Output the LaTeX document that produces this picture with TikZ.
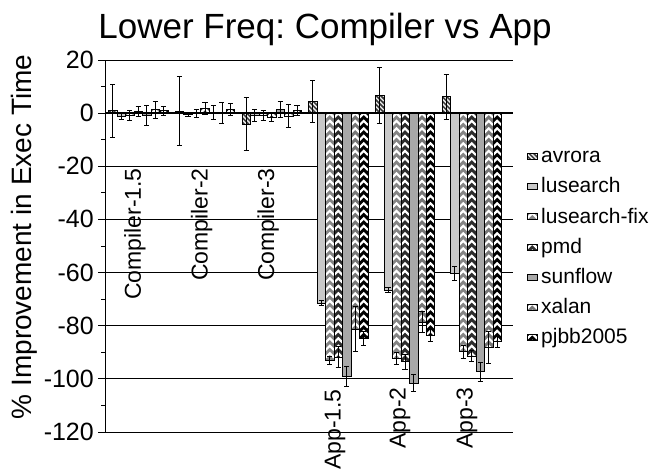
\documentclass[tikz,border=0pt]{standalone}
\usepackage{fontspec}
\setmainfont{Liberation Sans}
\frenchspacing
\definecolor{cAvr}{HTML}{3A3A3A}
\definecolor{cLus}{HTML}{C8C8C8}
\definecolor{cLfix}{HTML}{858585}
\definecolor{cPmd}{HTML}{2C2C2C}
\definecolor{cSun}{HTML}{A8A8A8}
\definecolor{cXal}{HTML}{777777}
\definecolor{cPjb}{HTML}{000000}
\tikzset{
  outl/.style={draw=black, line width=0.5pt},
  chevline/.style={white, line width=2.2pt},
  hatchline/.style={white!85!gray, line width=1.4pt},
  errbar/.style={black, line width=0.7pt},
  gridl/.style={black, line width=0.8pt},
  axisl/.style={black, line width=1.6pt},
  tickl/.style={black, line width=0.8pt},
  titlef/.style={font=\fontsize{35}{42}\selectfont, inner sep=0pt},
  ytitlef/.style={font=\fontsize{28}{34}\selectfont, inner sep=0pt},
  tickf/.style={font=\fontsize{25}{30}\selectfont, inner sep=0pt},
  catf/.style={font=\fontsize{23}{28}\selectfont, inner sep=0pt},
  legf/.style={font=\fontsize{21}{25}\selectfont, inner sep=0pt},
}
% plain filled rectangle: color, xa, ya, xb, yb
\newcommand\plainrect[5]{%
  \fill[#1] (#2,#3) rectangle (#4,#5);
  \draw[outl] (#2,#3) rectangle (#4,#5);
}
% hatched rectangle (diagonal stripes)
\newcommand\hatchrect[5]{%
  \fill[#1] (#2,#3) rectangle (#4,#5);
  \begin{scope}
    \clip (#2,#3) rectangle (#4,#5);
    \pgfmathsetmacro\hw{(#4)-(#2)}
    \pgfmathtruncatemacro\hn{((#5)-(#3))/4.5+4}
    \foreach \k in {0,...,\hn} {
      \draw[hatchline] (#2,{#3-\hw+\k*4.5-3}) -- (#4,{#3+\k*4.5-3});
    }
  \end{scope}
  \draw[outl] (#2,#3) rectangle (#4,#5);
}
% chevron rectangle
\newcommand\chevrect[5]{%
  \fill[#1] (#2,#3) rectangle (#4,#5);
  \begin{scope}
    \clip (#2,#3) rectangle (#4,#5);
    \pgfmathsetmacro\cxm{((#2)+(#4))/2}
    \pgfmathsetmacro\cw{((#4)-(#2))/2}
    \pgfmathtruncatemacro\cn{((#5)-(#3))/7.5+3}
    \foreach \k in {0,...,\cn} {
      \draw[chevline] (#2,{#3-3+\k*7.5}) -- (\cxm,{#3-3+\k*7.5-\cw}) -- (#4,{#3-3+\k*7.5});
    }
  \end{scope}
  \draw[outl] (#2,#3) rectangle (#4,#5);
}
% bar: group, index, value, error
\newcommand\mybar[4]{%
  \pgfmathsetmacro\xa{108.5+66.7*(#1)+8.49*(#2)}%
  \pgfmathsetmacro\xb{\xa+8.49}%
  \pgfmathsetmacro\xc{\xa+4.245}%
  \pgfmathsetmacro\yv{113.1-2.657*(#3)}%
  \pgfmathsetmacro\ya{min(113.1,\yv)}%
  \pgfmathsetmacro\yb{max(113.1,\yv)}%
  \pgfmathsetmacro\ylo{\yv+2.657*(#4)}%
  \pgfmathsetmacro\yhi{\yv-2.657*(#4)}%
  \ifcase#2\relax
    \hatchrect{cAvr}{\xa}{\ya}{\xb}{\yb}%
  \or \plainrect{cLus}{\xa}{\ya}{\xb}{\yb}%
  \or \chevrect{cLfix}{\xa}{\ya}{\xb}{\yb}%
  \or \chevrect{cPmd}{\xa}{\ya}{\xb}{\yb}%
  \or \plainrect{cSun}{\xa}{\ya}{\xb}{\yb}%
  \or \chevrect{cXal}{\xa}{\ya}{\xb}{\yb}%
  \or \chevrect{cPjb}{\xa}{\ya}{\xb}{\yb}%
  \fi
  \draw[errbar] (\xc,\ylo) -- (\xc,\yhi)
     ({\xc-2.6},\ylo) -- ({\xc+2.6},\ylo)
     ({\xc-2.6},\yhi) -- ({\xc+2.6},\yhi);
}
\begin{document}
\begin{tikzpicture}[x=1pt,y=-1pt]
\useasboundingbox[fill=white] (0,0) rectangle (662,469);
% title
\node[titlef, anchor=base] (title) at (325,38) {Lower Freq: Compiler vs App};
% gridlines
\foreach \v in {20,0,-20,-40,-60,-80,-100,-120} {
  \draw[gridl] (105,{113.1-2.657*(\v)}) -- (513,{113.1-2.657*(\v)});
}
% bars
\foreach \g/\j/\v/\e in {
  0/0/1.0/10, 0/1/-1.2/1, 0/2/-0.9/1.8, 0/3/0.6/1.9, 0/4/-0.9/3.8, 0/5/1.3/3.3, 0/6/1.0/1.7,
  1/0/0.7/13, 1/1/-0.6/0.7, 1/2/-0.2/1.5, 1/3/1.8/2.2, 1/4/0.2/2.7, 1/5/0.1/3.8, 1/6/1.3/2.2,
  2/0/-4.1/10, 2/1/-0.9/2.2, 2/2/-0.8/2, 2/3/-1.5/1.7, 2/4/1.3/3, 2/5/-1.0/4.4, 2/6/1.0/2,
  3/0/4.4/7.8, 3/1/-71.5/1, 3/2/-93/1.5, 3/3/-91.7/4, 3/4/-99.2/3.7, 3/5/-81.3/8.5, 3/6/-84.8/2.6,
  4/0/6.8/10.6, 4/1/-66.6/1, 4/2/-92.3/2.3, 4/3/-93.5/2.8, 4/4/-101.5/3.2, 4/5/-78.7/4, 4/6/-83.5/2.5,
  5/0/6.2/8.5, 5/1/-60.3/2.8, 5/2/-89.8/2.5, 5/3/-91.4/2.2, 5/4/-97.3/3.5, 5/5/-88.2/6, 5/6/-86/2} {
  \mybar{\g}{\j}{\v}{\e}
}
% axes
\draw[axisl] (105,113.1) -- (513,113.1);
\draw[tickl] (105,60) -- (105,432);
\foreach \v in {20,0,-20,-40,-60,-80,-100,-120} {
  \draw[tickl] (98,{113.1-2.657*(\v)}) -- (105,{113.1-2.657*(\v)});
  \node[tickf, anchor=east] (tick\v) at (94,{113.1-2.657*(\v)}) {\v};
}
\foreach \v in {10,-10,-30,-50,-70,-90,-110} {
  \draw[tickl] (101,{113.1-2.657*(\v)}) -- (106,{113.1-2.657*(\v)});
}
% axis title
\node[ytitlef, rotate=90] (ytitle) at (24.5,237) {\% Improvement in Exec Time};
% category labels
\node[catf, rotate=90, anchor=east] (c1) at (135,168) {Compiler-1.5};
\node[catf, rotate=90, anchor=east] (c2) at (201.7,168) {Compiler-2};
\node[catf, rotate=90, anchor=east] (c3) at (268.3,168) {Compiler-3};
\node[catf, rotate=90, anchor=east] (a1) at (335,389) {App-1.5};
\node[catf, rotate=90, anchor=east] (a2) at (400,387) {App-2};
\node[catf, rotate=90, anchor=east] (a3) at (467,387) {App-3};
% legend
\hatchrect{cAvr}{527.3}{153.5}{537.3}{159.5}
\plainrect{cLus}{527.3}{183.6}{537.3}{189.6}
\chevrect{cLfix}{527.3}{213.7}{537.3}{219.7}
\chevrect{cPmd}{527.3}{243.8}{537.3}{249.8}
\plainrect{cSun}{527.3}{273.9}{537.3}{279.9}
\chevrect{cXal}{527.3}{304}{537.3}{310}
\chevrect{cPjb}{527.3}{334.1}{537.3}{340.1}
\node[legf, anchor=base west] (l0) at (541,162.8) {avrora};
\node[legf, anchor=base west] (l1) at (541,192.9) {lusearch};
\node[legf, anchor=base west] (l2) at (541,223) {lusearch-fix};
\node[legf, anchor=base west] (l3) at (541,253.1) {pmd};
\node[legf, anchor=base west] (l4) at (541,283.2) {sunflow};
\node[legf, anchor=base west] (l5) at (541,313.3) {xalan};
\node[legf, anchor=base west] (l6) at (541,343.4) {pjbb2005};
\end{tikzpicture}
\end{document}
